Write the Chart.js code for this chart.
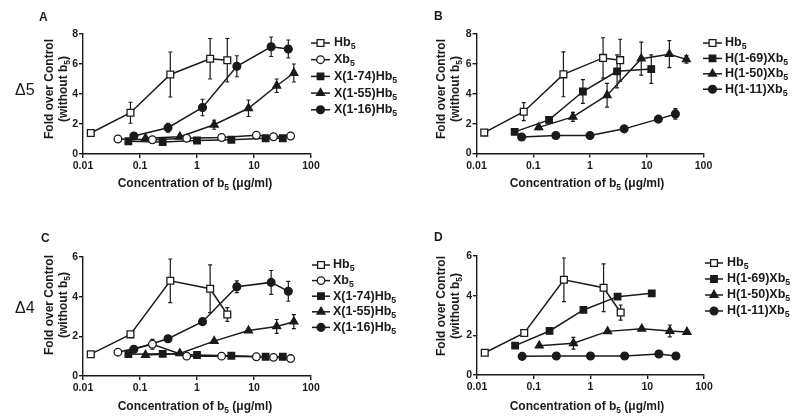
<!DOCTYPE html>
<html>
<head>
<meta charset="utf-8">
<script src="https://cdn.jsdelivr.net/npm/chart.js@4.4.1/dist/chart.umd.min.js"></script>
<style>
  body { margin: 0; background: #fff; }
  #wrap { position: relative; width: 800px; height: 418px; overflow: hidden; font-family: Arial, "Liberation Sans", sans-serif; color: #1a1a1a; }
  canvas { position: absolute; }
  .lbl { position: absolute; font-weight: bold; font-size: 12px; line-height: 12px; }
  .delta { position: absolute; font-size: 16px; line-height: 16px; }
</style>
</head>
<body>
<div id="wrap">
  <canvas id="chartA" width="400" height="209" style="left:0;top:0"></canvas>
  <canvas id="chartB" width="400" height="209" style="left:400px;top:0"></canvas>
  <canvas id="chartC" width="400" height="209" style="left:0;top:209px"></canvas>
  <canvas id="chartD" width="400" height="209" style="left:400px;top:209px"></canvas>
  <div class="lbl" style="left:39px;top:11px">A</div>
  <div class="lbl" style="left:434px;top:10px">B</div>
  <div class="lbl" style="left:41px;top:232px">C</div>
  <div class="lbl" style="left:434px;top:231px">D</div>
  <div class="delta" style="left:15px;top:82px">Δ5</div>
  <div class="delta" style="left:15px;top:300px">Δ4</div>
</div>
<script>
// concentrations of b5 (µg/ml) for each dilution series
const concHb = [0.0137, 0.068, 0.34, 1.7, 3.4];
const concXb = [0.041, 0.165, 0.66, 2.7, 11, 22, 44];
const concQuarter = [0.0625, 0.25, 1, 4, 16, 32];
const concEighth = [0.125, 0.5, 2, 8, 25, 50];
const concX16 = [0.078, 0.31, 1.25, 5, 20, 40];
const concH69 = [0.047, 0.19, 0.75, 3, 12];

const xTicks = [0.01, 0.1, 1, 10, 100];

const namesX = ["Hb_5", "Xb_5", "X(1-74)Hb_5", "X(1-55)Hb_5", "X(1-16)Hb_5"];
const namesH = ["Hb_5", "H(1-69)Xb_5", "H(1-50)Xb_5", "H(1-11)Xb_5"];

// A: delta5, X chimeras
const aHb = [1.4, 2.75, 5.3, 6.35, 6.25];
const aHbErr = [0, 0.7, 1.5, 1.35, 1.45];
const aXb = [1.0, 0.95, 1.05, 1.1, 1.25, 1.15, 1.2];
const aX74 = [0.85, 0.8, 0.9, 0.95, 1.05, 1.05];
const aX55 = [1.05, 1.15, 1.95, 3.05, 4.55, 5.4];
const aX55Err = [0, 0, 0.3, 0.55, 0.45, 0.6];
const aX16 = [1.2, 1.75, 3.1, 5.85, 7.15, 7.0];
const aX16Err = [0.1, 0.3, 0.55, 0.7, 0.65, 0.6];

// B: delta5, H chimeras
const bHb = [1.4, 2.8, 5.3, 6.4, 6.25];
const bHbErr = [0, 0.6, 1.5, 1.35, 1.4];
const bH69 = [1.45, 2.25, 4.15, 5.5, 5.65];
const bH69Err = [0, 0.2, 0.8, 1.1, 0.95];
const bH50 = [1.75, 2.45, 3.9, 6.35, 6.65, 6.3];
const bH50Err = [0.15, 0.3, 0.8, 1.1, 0.9, 0.25];
const bH11 = [1.1, 1.2, 1.2, 1.65, 2.3, 2.65];
const bH11Err = [0, 0, 0, 0.1, 0.1, 0.35];

// C: delta4, X chimeras
const cHb = [1.1, 2.1, 4.8, 4.4, 3.1];
const cHbErr = [0, 0, 1.1, 1.2, 0.35];
const cXb = [1.2, 1.6, 1.0, 1.0, 0.97, 0.94, 0.88];
const cXbErr = [0, 0.25, 0, 0, 0, 0, 0];
const cX74 = [1.1, 1.12, 1.06, 1.02, 0.97, 0.97];
const cX55 = [1.06, 1.14, 1.76, 2.29, 2.5, 2.74];
const cX55Err = [0, 0, 0, 0, 0.35, 0.35];
const cX16 = [1.35, 1.88, 2.74, 4.5, 4.72, 4.27];
const cX16Err = [0, 0, 0, 0.3, 0.6, 0.5];

// D: delta4, H chimeras
const dHb = [1.12, 2.12, 4.8, 4.4, 3.15];
const dHbErr = [0, 0, 1.1, 1.2, 0.38];
const dH69 = [1.48, 2.22, 3.28, 3.95, 4.12];
const dH50 = [1.48, 1.6, 2.2, 2.33, 2.22, 2.17];
const dH50Err = [0, 0.3, 0, 0, 0.3, 0];
const dH11 = [0.94, 0.96, 0.96, 0.96, 1.06, 0.96];

const ink = "#1a1a1a";
const fontFam = 'Arial, "Liberation Sans", Helvetica, sans-serif';

// marker styles
const openSquare = { shape: "rect", fill: "#fff", r: 4.8 };
const openCircle = { shape: "circle", fill: "#fff", r: 3.8 };
const fullSquare = { shape: "rect", fill: ink, r: 4.6 };
const fullTriangle = { shape: "triangle", fill: ink, r: 4.6 };
const fullCircle = { shape: "circle", fill: ink, r: 3.9 };

function series(label, xs, ys, errs, mark) {
    return {
        label: label,
        data: xs.map((x, i) => ({ x: x, y: ys[i] })),
        err: errs || [],
        mark: mark,
        showLine: true,
        borderColor: ink,
        borderWidth: 1.5,
        pointStyle: mark.shape,
        pointRadius: mark.r,
        pointBackgroundColor: mark.fill,
        pointBorderColor: ink,
        pointBorderWidth: 1.3,
        tension: 0,
    };
}

// text with "_x" subscripts
function richText(ctx, str, x, y, size, align) {
    const parts = [];
    let buf = "";
    for (let i = 0; i < str.length; i++) {
        if (str[i] === "_") {
            if (buf) parts.push({ t: buf, sub: false });
            buf = "";
            parts.push({ t: str[i + 1], sub: true });
            i++;
        } else buf += str[i];
    }
    if (buf) parts.push({ t: buf, sub: false });
    let w = 0;
    parts.forEach((p) => {
        ctx.font = "bold " + (p.sub ? size * 0.7 : size) + "px " + fontFam;
        p.w = ctx.measureText(p.t).width;
        w += p.w;
    });
    let cx = align === "center" ? x - w / 2 : x;
    ctx.textAlign = "left";
    ctx.textBaseline = "middle";
    ctx.fillStyle = ink;
    parts.forEach((p) => {
        ctx.font = "bold " + (p.sub ? size * 0.7 : size) + "px " + fontFam;
        ctx.fillText(p.t, cx, y + (p.sub ? size * 0.32 : 0));
        cx += p.w;
    });
}

function drawMark(ctx, mark, x, y) {
    const r = mark.r;
    ctx.beginPath();
    if (mark.shape === "rect") {
        const h = r * Math.SQRT1_2;
        ctx.rect(x - h, y - h, 2 * h, 2 * h);
    } else if (mark.shape === "circle") {
        ctx.arc(x, y, r, 0, Math.PI * 2);
    } else {
        for (let k = 0; k < 3; k++) {
            const a = (k * 2 * Math.PI) / 3;
            const px = x + Math.sin(a) * r;
            const py = y - Math.cos(a) * r;
            if (k === 0) ctx.moveTo(px, py);
            else ctx.lineTo(px, py);
        }
        ctx.closePath();
    }
    ctx.fillStyle = mark.fill;
    ctx.fill();
    ctx.lineWidth = 1.3;
    ctx.strokeStyle = ink;
    ctx.stroke();
}

const panelExtras = {
    id: "panelExtras",
    beforeDatasetsDraw(chart) {
        const ctx = chart.ctx;
        const xs = chart.scales.x, ys = chart.scales.y;
        ctx.save();
        ctx.strokeStyle = ink;
        ctx.lineWidth = 1.2;
        chart.data.datasets.forEach((ds) => {
            ds.data.forEach((p, i) => {
                const e = ds.err[i];
                if (!e) return;
                const px = xs.getPixelForValue(p.x);
                const top = ys.getPixelForValue(p.y + e);
                const bot = ys.getPixelForValue(p.y - e);
                ctx.beginPath();
                ctx.moveTo(px, top);
                ctx.lineTo(px, bot);
                ctx.moveTo(px - 2, top);
                ctx.lineTo(px + 2, top);
                ctx.moveTo(px - 2, bot);
                ctx.lineTo(px + 2, bot);
                ctx.stroke();
            });
        });
        ctx.restore();
    },
    afterDraw(chart, args, opts) {
        const ctx = chart.ctx;
        ctx.save();
        const lg = opts.legend;
        chart.data.datasets.forEach((ds, i) => {
            const y = lg.y0 + i * lg.dy;
            ctx.strokeStyle = ink;
            ctx.lineWidth = 1.5;
            ctx.beginPath();
            ctx.moveTo(lg.x0, y);
            ctx.lineTo(lg.x1, y);
            ctx.stroke();
            drawMark(ctx, ds.mark, (lg.x0 + lg.x1) / 2, y);
            richText(ctx, ds.label, lg.tx, y, 12.5, "left");
        });
        ctx.save();
        ctx.translate(opts.yTitle.x1, opts.yTitle.y);
        ctx.rotate(-Math.PI / 2);
        richText(ctx, "Fold over Control", 0, 0, 12, "center");
        ctx.restore();
        ctx.save();
        ctx.translate(opts.yTitle.x2, opts.yTitle.y);
        ctx.rotate(-Math.PI / 2);
        richText(ctx, "(without b_5)", 0, 0, 12, "center");
        ctx.restore();
        richText(ctx, "Concentration of b_5 (μg/ml)", opts.xTitle.x, opts.xTitle.y, 12, "center");
        ctx.restore();
    },
};

function makePanel(id, datasets, yMax, pad, extras) {
    new Chart(document.getElementById(id), {
        type: "scatter",
        data: { datasets: datasets },
        plugins: [panelExtras],
        options: {
            responsive: false,
            animation: false,
            devicePixelRatio: 1,
            layout: { padding: pad },
            plugins: {
                legend: { display: false },
                tooltip: { enabled: false },
                panelExtras: extras,
            },
            scales: {
                x: {
                    type: "logarithmic",
                    min: 0.01,
                    max: 100,
                    afterBuildTicks: (s) => { s.ticks = xTicks.map((v) => ({ value: v })); },
                    afterFit: (s) => { s.height = 20; },
                    ticks: {
                        autoSkip: false,
                        maxRotation: 0,
                        padding: 2,
                        color: ink,
                        font: { family: fontFam, size: 10.5, weight: "bold" },
                        callback: (v) => String(v),
                    },
                    grid: { drawOnChartArea: false, drawTicks: true, tickLength: 4, color: ink, lineWidth: 1.4 },
                    border: { display: true, color: ink, width: 1.4 },
                },
                y: {
                    min: 0,
                    max: yMax,
                    afterFit: (s) => { s.width = 20; },
                    ticks: {
                        stepSize: 2,
                        padding: 1,
                        color: ink,
                        font: { family: fontFam, size: 10.5, weight: "bold" },
                    },
                    grid: { drawOnChartArea: false, drawTicks: true, tickLength: 4, color: ink, lineWidth: 1.4 },
                    border: { display: true, color: ink, width: 1.4 },
                },
            },
        },
    });
}

makePanel("chartA", [
    series(namesX[0], concHb, aHb, aHbErr, openSquare),
    series(namesX[1], concXb, aXb, null, openCircle),
    series(namesX[2], concQuarter, aX74, null, fullSquare),
    series(namesX[3], concEighth, aX55, aX55Err, fullTriangle),
    series(namesX[4], concX16, aX16, aX16Err, fullCircle),
], 8, { left: 63, right: 89, top: 34, bottom: 35 }, {
    legend: { x0: 311, x1: 330, tx: 334, y0: 43, dy: 16.7 },
    yTitle: { x1: 50, x2: 64, y: 89 },
    xTitle: { x: 195, y: 184 },
});

makePanel("chartB", [
    series(namesH[0], concHb, bHb, bHbErr, openSquare),
    series(namesH[1], concH69, bH69, bH69Err, fullSquare),
    series(namesH[2], concEighth, bH50, bH50Err, fullTriangle),
    series(namesH[3], concQuarter, bH11, bH11Err, fullCircle),
], 8, { left: 56.5, right: 96.5, top: 34, bottom: 35.5 }, {
    legend: { x0: 303, x1: 322, tx: 325, y0: 43, dy: 15.4 },
    yTitle: { x1: 42, x2: 56, y: 89 },
    xTitle: { x: 187, y: 184 },
});

makePanel("chartC", [
    series(namesX[0], concHb, cHb, cHbErr, openSquare),
    series(namesX[1], concXb, cXb, cXbErr, openCircle),
    series(namesX[2], concQuarter, cX74, null, fullSquare),
    series(namesX[3], concEighth, cX55, cX55Err, fullTriangle),
    series(namesX[4], concX16, cX16, cX16Err, fullCircle),
], 6, { left: 63, right: 89, top: 48, bottom: 22 }, {
    legend: { x0: 312, x1: 330, tx: 333, y0: 56, dy: 15.6 },
    yTitle: { x1: 50, x2: 64, y: 96 },
    xTitle: { x: 195, y: 198 },
});

makePanel("chartD", [
    series(namesH[0], concHb, dHb, dHbErr, openSquare),
    series(namesH[1], concH69, dH69, null, fullSquare),
    series(namesH[2], concEighth, dH50, dH50Err, fullTriangle),
    series(namesH[3], concQuarter, dH11, null, fullCircle),
], 6, { left: 57, right: 96, top: 47, bottom: 23 }, {
    legend: { x0: 305, x1: 323, tx: 327, y0: 54, dy: 16 },
    yTitle: { x1: 42, x2: 56, y: 97 },
    xTitle: { x: 187, y: 198 },
});
</script>
</body>
</html>
